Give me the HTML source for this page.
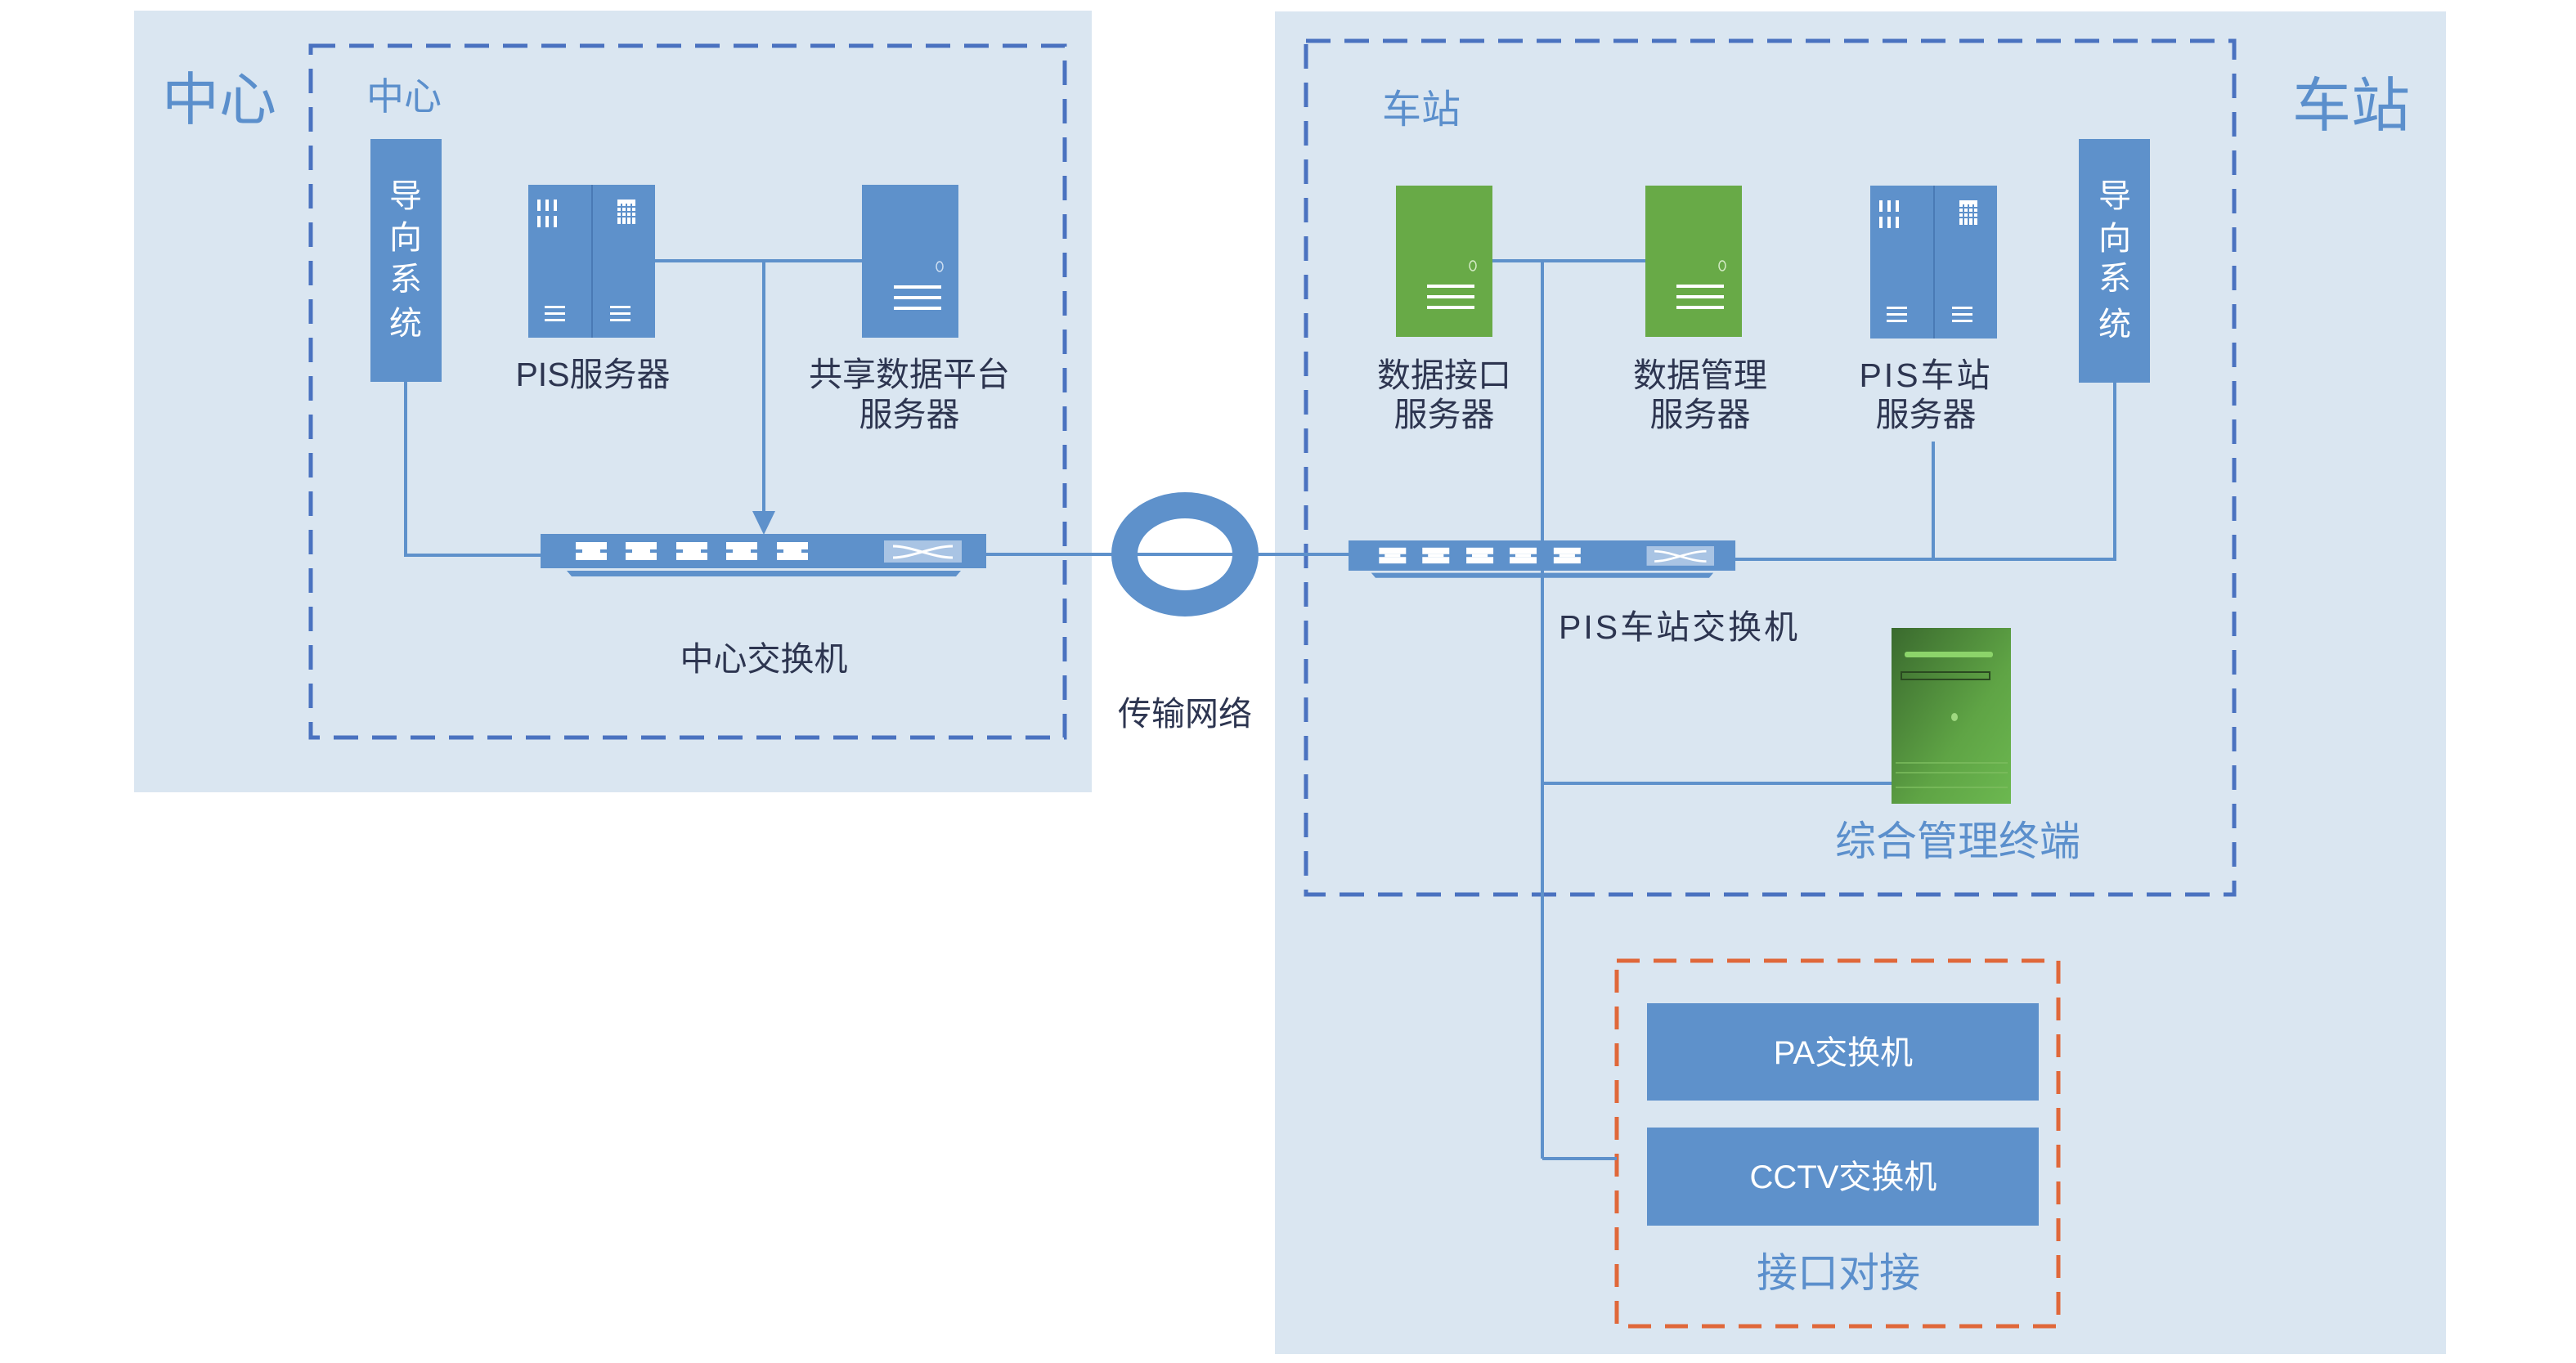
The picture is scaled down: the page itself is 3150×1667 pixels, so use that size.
<!DOCTYPE html>
<html><head><meta charset="utf-8"><style>
html,body{margin:0;padding:0;background:#fff;}
svg{display:block}
text{font-family:"Liberation Sans","Noto Sans CJK SC",sans-serif;}
</style></head><body>
<svg width="3150" height="1667" viewBox="0 0 3150 1667" xmlns="http://www.w3.org/2000/svg">
<defs>
<linearGradient id="tg" x1="0" y1="0" x2="1" y2="1">
<stop offset="0" stop-color="#3a6a2e"/><stop offset="0.6" stop-color="#5fa445"/><stop offset="1" stop-color="#6cb850"/>
</linearGradient>
<g id="port"><rect x="0" y="0" width="38" height="9" fill="#fff"/><rect x="8" y="9" width="22" height="4" fill="#fff"/><rect x="0" y="13" width="38" height="9" fill="#fff"/></g>
</defs>
<rect x="164" y="13" width="1171" height="956" fill="#dae6f1"/>
<rect x="1559" y="14" width="1432" height="1642" fill="#dae6f1"/>
<rect x="380" y="56" width="922" height="846" fill="none" stroke="#4a72c0" stroke-width="5" stroke-dasharray="30,17"/>
<rect x="1597" y="50" width="1135" height="1044" fill="none" stroke="#4a72c0" stroke-width="5" stroke-dasharray="30,17"/>
<rect x="1977" y="1175" width="540" height="447" fill="none" stroke="#e0683a" stroke-width="5" stroke-dasharray="28,17"/>

<text x="268" y="146" font-size="70" fill="#5b8fcc" text-anchor="middle">中心</text>
<text x="494" y="134" font-size="46" fill="#5b8fcc" text-anchor="middle">中心</text>
<text x="1738" y="150" font-size="48" fill="#5b8fcc" text-anchor="middle">车站</text>
<text x="2875" y="154" font-size="72" fill="#5b8fcc" text-anchor="middle">车站</text>

<g stroke="#5e91cb" stroke-width="4" fill="none">
<polyline points="496,467 496,679 661,679"/>
<line x1="801" y1="319" x2="1054" y2="319"/>
<line x1="934" y1="319" x2="934" y2="628"/>
<line x1="1206" y1="678" x2="1649" y2="678"/>
<line x1="1825" y1="319" x2="2013" y2="319"/>
<line x1="1886" y1="319" x2="1886" y2="1417"/>
<polyline points="1886,1417 1977,1417"/>
<line x1="1886" y1="958" x2="2313" y2="958"/>
<polyline points="2122,684 2586,684 2586,468"/>
<line x1="2364" y1="540" x2="2364" y2="684"/>
</g>
<polygon points="920,625 948,625 934,654" fill="#5e91cb"/>

<rect x="453" y="170" width="87" height="297" fill="#5e91cb"/>
<rect x="2542" y="170" width="87" height="298" fill="#5e91cb"/>
<g font-size="40" fill="#fff" text-anchor="middle">
<text x="496" y="253">导</text><text x="496" y="304">向</text><text x="496" y="355">系</text><text x="496" y="409">统</text>
<text x="2586" y="253">导</text><text x="2586" y="305">向</text><text x="2586" y="354">系</text><text x="2586" y="410">统</text>
</g>

<g id="dbl">
<rect x="646" y="226" width="155" height="187" fill="#5e91cb"/>
<line x1="724" y1="226" x2="724" y2="413" stroke="#4a7ab5" stroke-width="2"/>
<g fill="#fff"><rect x="657" y="244" width="4" height="14"/><rect x="667" y="244" width="4" height="14"/><rect x="677" y="244" width="4" height="14"/>
<rect x="657" y="264" width="4" height="14"/><rect x="667" y="264" width="4" height="14"/><rect x="677" y="264" width="4" height="14"/>
<rect x="755" y="244" width="22" height="30"/>
<rect x="666" y="374" width="25" height="3"/><rect x="666" y="382" width="25" height="3"/><rect x="666" y="390" width="25" height="3"/>
<rect x="746" y="374" width="25" height="3"/><rect x="746" y="382" width="25" height="3"/><rect x="746" y="390" width="25" height="3"/></g>
<g fill="#5e91cb"><rect x="759" y="249" width="2" height="25"/><rect x="765" y="249" width="2" height="25"/><rect x="771" y="249" width="2" height="25"/><rect x="755" y="252" width="22" height="2"/><rect x="755" y="258" width="22" height="2"/><rect x="755" y="264" width="22" height="2"/></g>
</g>
<use href="#dbl" x="1641" y="1"/>
<rect x="1054" y="226" width="118" height="187" fill="#5e91cb"/>
<g fill="#fff"><rect x="1093" y="349" width="58" height="4"/><rect x="1093" y="362" width="58" height="4"/><rect x="1093" y="375" width="58" height="4"/></g>
<ellipse cx="1149" cy="326" rx="4" ry="6" fill="none" stroke="#cfe0f2" stroke-width="1.5"/>
<g id="gs">
<rect x="1707" y="227" width="118" height="185" fill="#68aa47"/>
<g fill="#fff"><rect x="1745" y="348" width="58" height="4"/><rect x="1745" y="361" width="58" height="4"/><rect x="1745" y="374" width="58" height="4"/></g>
<ellipse cx="1801" cy="325" rx="4" ry="6" fill="none" stroke="#d6ecc8" stroke-width="1.5"/>
</g>
<use href="#gs" x="305" y="0"/>

<g id="sw">
<polygon points="693,698 1175,698 1169,705 699,705" fill="#5e91cb"/>
<rect x="661" y="653" width="545" height="42" fill="#5e91cb"/>
<use href="#port" x="704" y="663"/><use href="#port" x="765" y="663"/><use href="#port" x="827" y="663"/><use href="#port" x="888" y="663"/><use href="#port" x="950" y="663"/>
<rect x="1081" y="661" width="95" height="27" fill="#a9c4e4"/>
<path d="M1092,668 C1115,668 1140,682 1165,682 M1092,682 C1115,682 1140,668 1165,668" stroke="#fff" stroke-width="3" fill="none"/>
</g>
<g transform="translate(1649,661) scale(0.868,0.88) translate(-661,-653)"><use href="#sw"/></g>

<ellipse cx="1449" cy="678" rx="74" ry="60" fill="none" stroke="#5e91cb" stroke-width="32"/>
<line x1="1375" y1="678" x2="1523" y2="678" stroke="#5e91cb" stroke-width="4"/>

<rect x="2313" y="768" width="146" height="215" fill="url(#tg)"/>
<rect x="2329" y="797" width="108" height="7" rx="3" fill="#8cd46a"/>
<rect x="2325" y="822" width="108" height="9" fill="none" stroke="#2a4a20" stroke-width="2"/>
<ellipse cx="2390" cy="877" rx="4" ry="5" fill="#9fd880"/>
<g stroke="#7dbd5f" stroke-width="1.5"><line x1="2318" y1="933" x2="2455" y2="933"/><line x1="2318" y1="945" x2="2455" y2="945"/><line x1="2318" y1="963" x2="2455" y2="963"/></g>

<rect x="2014" y="1227" width="479" height="119" fill="#5e91cb"/>
<rect x="2014" y="1379" width="479" height="120" fill="#5e91cb"/>
<text x="2254" y="1301" font-size="40" fill="#fff" text-anchor="middle">PA交换机</text>
<text x="2254" y="1453" font-size="40" fill="#fff" text-anchor="middle">CCTV交换机</text>

<g font-size="41" fill="#2d3550" text-anchor="middle">
<text x="725" y="472">PIS服务器</text>
<text x="1112" y="472">共享数据平台</text>
<text x="1112" y="521">服务器</text>
<text x="934" y="820">中心交换机</text>
<text x="1449" y="887">传输网络</text>
<text x="1766" y="473">数据接口</text><text x="1766" y="521">服务器</text>
<text x="2079" y="473">数据管理</text><text x="2079" y="521">服务器</text>
<text x="2355" y="473" letter-spacing="3">PIS车站</text><text x="2355" y="521">服务器</text>
<text x="1906" y="781" text-anchor="start" letter-spacing="3">PIS车站交换机</text>
</g>
<text x="2394" y="1046" font-size="50" fill="#5b8fcc" text-anchor="middle">综合管理终端</text>
<text x="2248" y="1574" font-size="50" fill="#5b8fcc" text-anchor="middle">接口对接</text>
</svg>
</body></html>
